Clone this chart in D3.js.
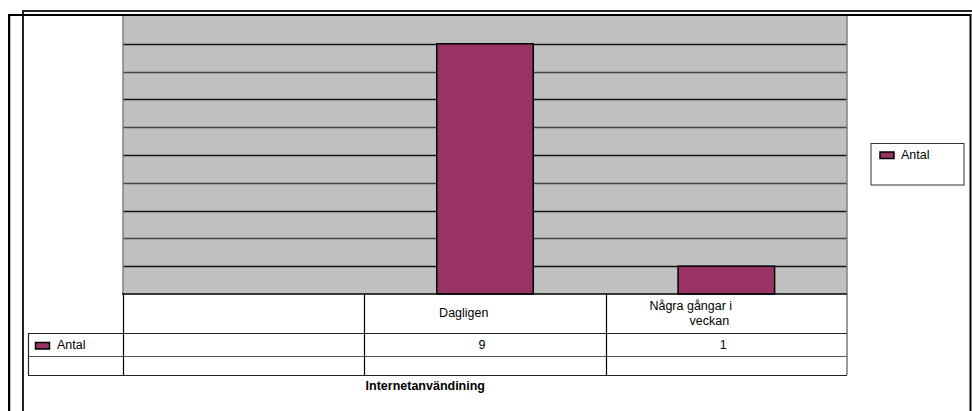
<!DOCTYPE html>
<html lang="sv">
<head>
<meta charset="UTF-8">
<title>Internetanvändining</title>
<script src="https://d3js.org/d3.v7.min.js"></script>
<style>
  body { margin: 0; background: #fff; }
  text { font-family: "Liberation Sans", Arial, sans-serif; font-size: 12.5px; fill: #000; }
  .title { font-weight: bold; }
</style>
</head>
<body>
<svg width="972" height="411"></svg>
<script>
// data
const categories = ["", "Dagligen", "Några gångar i veckan"];
const labelLines = [[], ["Dagligen"], ["Några gångar i", "veckan"]];
const values = [null, 9, 1];
const seriesName = "Antal";
const axisTitle = "Internetanvändining";
const yMax = 10;

const svg = d3.select("svg");
const plot = { left: 123, right: 847, top: 16, bottom: 294 };
const tableLeft = 28;
const rowY = [294, 333, 356, 375];   // header, value row, empty row, bottom

const x = d3.scaleBand().domain(categories).range([plot.left, plot.right]);
const y = d3.scaleLinear().domain([0, yMax]).range([plot.bottom, plot.top]);
const barW = x.bandwidth() / 2.5;   // gap width 150%
const barColor = "#993366";

// frames around the whole chart
svg.append("path")
  .attr("d", "M23,411 V11 H972")
  .attr("fill", "none").attr("stroke", "#222").attr("stroke-width", 2);
svg.append("path")
  .attr("d", "M9,411 V15 H970.5 V411")
  .attr("fill", "none").attr("stroke", "#000").attr("stroke-width", 2);
svg.append("line")
  .attr("x1", 10.5).attr("x2", 10.5).attr("y1", 16).attr("y2", 411)
  .attr("stroke", "#bbb").attr("stroke-width", 1);

// plot area
svg.append("rect")
  .attr("x", plot.left).attr("y", plot.top)
  .attr("width", plot.right - plot.left).attr("height", plot.bottom - plot.top)
  .attr("fill", "#c0c0c0");

// gridlines
svg.append("g").selectAll("line")
  .data(y.ticks(yMax).filter(d => d > 0 && d < yMax))
  .join("line")
  .attr("x1", plot.left).attr("x2", plot.right)
  .attr("y1", d => Math.round(y(d)) + 0.5).attr("y2", d => Math.round(y(d)) + 0.5)
  .attr("stroke", (d, i) => i % 2 ? "#444" : "#111").attr("stroke-width", 1.5);

// plot side borders
svg.append("g").selectAll("line")
  .data([plot.left, plot.right])
  .join("line")
  .attr("x1", d => d).attr("x2", d => d)
  .attr("y1", plot.top).attr("y2", plot.bottom)
  .attr("stroke", "#808080").attr("stroke-width", 1.5);

// bars
svg.append("g").selectAll("rect")
  .data(categories.map((c, i) => ({ c, v: values[i] })).filter(d => d.v != null))
  .join("rect")
  .attr("x", d => x(d.c) + (x.bandwidth() - barW) / 2)
  .attr("y", d => y(d.v))
  .attr("width", barW)
  .attr("height", d => y(0) - y(d.v))
  .attr("fill", barColor)
  .attr("stroke", "#000").attr("stroke-width", 1.5);

// data table lines
const tbl = svg.append("g").attr("stroke", "#222").attr("stroke-width", 1.2);
tbl.append("line").attr("x1", plot.left - 1).attr("x2", plot.right).attr("y1", rowY[0]).attr("y2", rowY[0]).attr("stroke", "#000").attr("stroke-width", 1.5);
rowY.slice(1).forEach((ry, i) => {
  tbl.append("line").attr("x1", tableLeft).attr("x2", plot.right)
    .attr("y1", ry + 0.5).attr("y2", ry + 0.5)
    .attr("stroke", i === 1 ? "#555" : "#222");
});
tbl.append("line").attr("x1", tableLeft + 0.5).attr("x2", tableLeft + 0.5).attr("y1", rowY[1]).attr("y2", rowY[3]);
tbl.append("line").attr("x1", plot.left + 0.5).attr("x2", plot.left + 0.5).attr("y1", rowY[0]).attr("y2", rowY[3]).attr("stroke", "#000");
tbl.selectAll(".col")
  .data(categories.slice(1))
  .join("line")
  .attr("x1", d => Math.round(x(d)) + 0.5).attr("x2", d => Math.round(x(d)) + 0.5)
  .attr("y1", rowY[0]).attr("y2", rowY[3]).attr("stroke", "#000");
tbl.append("line").attr("x1", plot.right).attr("x2", plot.right).attr("y1", rowY[0]).attr("y2", rowY[3]).attr("stroke", "#555");

// category labels (placed as the original renders them, slightly left of center)
function leftShifted(sel, cx, k = 0.93) {
  sel.each(function () {
    const w = this.getComputedTextLength();
    d3.select(this).attr("x", cx - k * w);
  });
}
categories.forEach((c, i) => {
  const cx = x(c) + x.bandwidth() / 2;
  const lines = labelLines[i];
  const base = lines.length > 1 ? 310 : 317;
  lines.forEach((ln, j) => {
    svg.append("text").attr("y", base + j * 15).text(ln).call(leftShifted, cx);
  });
  if (values[i] != null) {
    svg.append("text").attr("y", 349).text(values[i]).call(leftShifted, cx);
  }
});

// legend key in the table
svg.append("rect").attr("x", 35.5).attr("y", 342.5).attr("width", 14).attr("height", 6.5)
  .attr("fill", barColor).attr("stroke", "#000").attr("stroke-width", 1.5);
svg.append("text").attr("x", 57).attr("y", 349).text(seriesName);

// axis title
svg.append("text").attr("class", "title").attr("y", 390).text(axisTitle)
  .call(leftShifted, (plot.left + plot.right) / 2, 1.0);

// legend box
svg.append("rect").attr("x", 871).attr("y", 143.5).attr("width", 93).attr("height", 41.5)
  .attr("fill", "#fff").attr("stroke", "#333").attr("stroke-width", 1);
svg.append("rect").attr("x", 880).attr("y", 152).attr("width", 14).attr("height", 6.5)
  .attr("fill", barColor).attr("stroke", "#000").attr("stroke-width", 1.5);
svg.append("text").attr("x", 901).attr("y", 158.5).text(seriesName);
</script>
</body>
</html>
